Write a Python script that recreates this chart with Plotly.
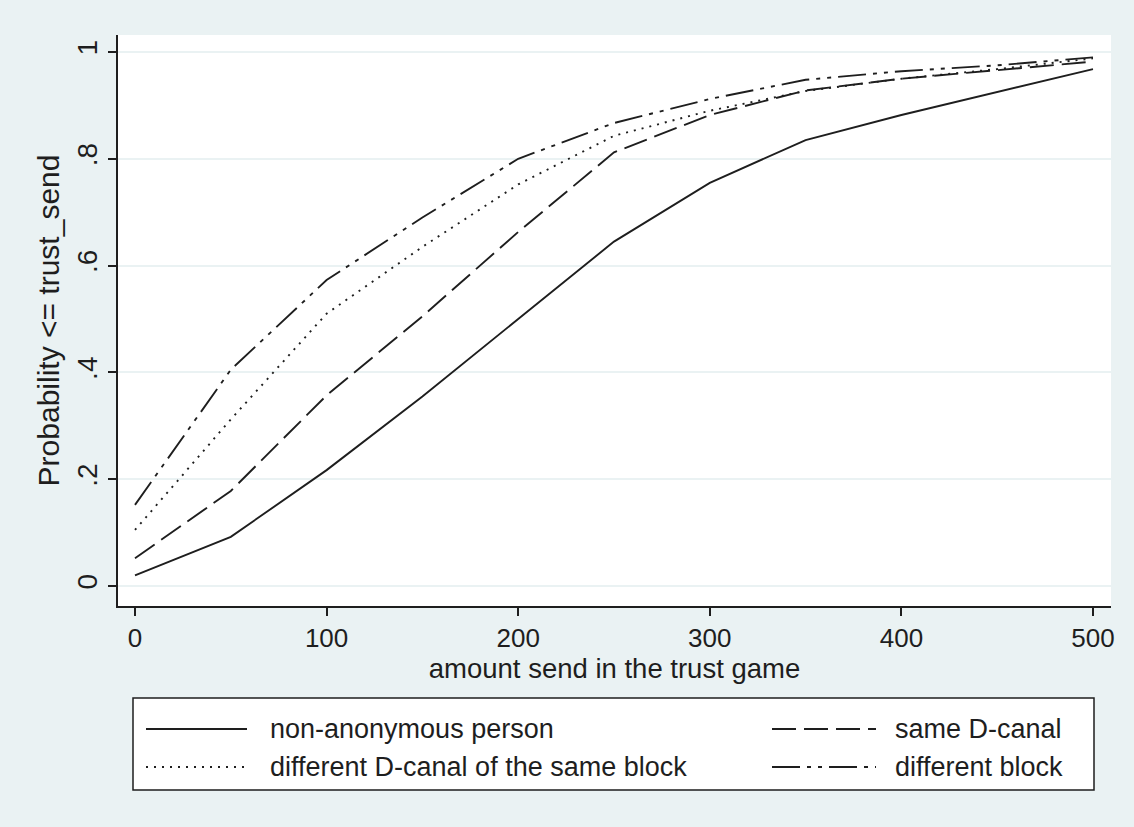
import plotly.graph_objects as go

amount = [0, 50, 100, 150, 200, 250, 300, 350, 400, 450, 500]

non_anonymous = [0.020, 0.092, 0.217, 0.355, 0.500, 0.645, 0.755, 0.835, 0.882, 0.925, 0.968]
same_dcanal = [0.052, 0.178, 0.357, 0.505, 0.663, 0.812, 0.882, 0.928, 0.950, 0.966, 0.982]
diff_dcanal_same_block = [0.105, 0.312, 0.510, 0.635, 0.752, 0.843, 0.890, 0.927, 0.950, 0.968, 0.988]
diff_block = [0.152, 0.405, 0.573, 0.690, 0.800, 0.867, 0.912, 0.948, 0.964, 0.975, 0.990]

series_names = ["non-anonymous person", "same D-canal",
                "different D-canal of the same block", "different block"]
x_ticks = [0, 100, 200, 300, 400, 500]
y_ticks = [0, 0.2, 0.4, 0.6, 0.8, 1.0]
y_tick_labels = ["0", ".2", ".4", ".6", ".8", "1"]

W, H = 1134, 827
BG = "#eaf2f3"
INK = "#1e1e1e"
FONT = "Liberation Sans, Arial, sans-serif"
FS = 27

# plot area in pixels
L, R, T, B = 118, 1111, 35, 606
ml, mr, mt, mb = L, W - R, T, H - B

# axis calibration (pixels)
X0PX, X500PX = 135, 1093
Y0PX, Y1PX = 586, 52
xs = (X500PX - X0PX) / 500.0
ys_ = (Y0PX - Y1PX) / 1.0

dashes = ["solid", "24px,8px", "2px,6px", "28px,7px,4px,7px,4px,7px"]
series = [non_anonymous, same_dcanal, diff_dcanal_same_block, diff_block]

fig = go.Figure()
for name, yv, d in zip(series_names, series, dashes):
    fig.add_trace(go.Scatter(x=amount, y=yv, mode="lines", name=name,
                             line=dict(color=INK, width=1.9, dash=d),
                             showlegend=False))

def px(xp):
    return (xp - L) / (R - L)

def py(yp):
    return (B - yp) / (B - T)

shapes = []
annotations = []
# legend box
shapes.append(dict(type="rect", xref="paper", yref="paper",
                   x0=px(133), x1=px(1094), y0=py(698), y1=py(790),
                   fillcolor="white", line=dict(color=INK, width=1.5)))
leg_pos = [
    (146, 247, 268, 729),
    (772, 876, 893, 729),
    (146, 247, 268, 767),
    (772, 876, 893, 767),
]
for (x0, x1, xt, yr), name, d in zip(leg_pos, series_names, dashes):
    shapes.append(dict(type="line", xref="paper", yref="paper",
                       x0=px(x0), x1=px(x1), y0=py(yr), y1=py(yr),
                       line=dict(color=INK, width=1.9, dash=d)))
    annotations.append(dict(xref="paper", yref="paper", x=px(xt), y=py(yr),
                            text=name, showarrow=False, xanchor="left",
                            yanchor="middle",
                            font=dict(family=FONT, size=FS, color=INK)))

fig.update_layout(
    width=W, height=H,
    margin=dict(l=ml, r=mr, t=mt, b=mb, pad=0),
    paper_bgcolor=BG, plot_bgcolor="white",
    font=dict(family=FONT, size=FS, color=INK),
    shapes=shapes, annotations=annotations,
    showlegend=False,
)
fig.update_xaxes(
    range=[-(X0PX - L) / xs, 500 + (R - X500PX) / xs],
    tickvals=x_ticks, ticktext=[str(v) for v in x_ticks],
    ticks="outside", ticklen=8, tickwidth=1.5, tickcolor=INK,
    showline=True, linecolor=INK, linewidth=1.5,
    showgrid=False, zeroline=False,
    title=dict(text="amount send in the trust game", standoff=0,
               font=dict(family=FONT, size=FS + 0.5, color=INK)),
    tickfont=dict(family=FONT, size=FS - 1, color=INK),
)
fig.update_yaxes(
    range=[-(B - Y0PX) / ys_, 1 + (Y1PX - T) / ys_],
    tickvals=y_ticks, ticktext=y_tick_labels, tickangle=-90,
    ticks="outside", ticklen=8, tickwidth=1.5, tickcolor=INK,
    showline=True, linecolor=INK, linewidth=1.5,
    showgrid=True, gridcolor=BG, gridwidth=1.5, zeroline=False,
    title=dict(text="Probability <= trust_send", standoff=4,
               font=dict(family=FONT, size=30, color=INK)),
    tickfont=dict(family=FONT, size=FS + 1, color=INK),
)

fig.write_html("out.html",
               config={"displayModeBar": False},
               post_script="document.body.style.margin='0';"
                           "document.body.style.padding='0';")
